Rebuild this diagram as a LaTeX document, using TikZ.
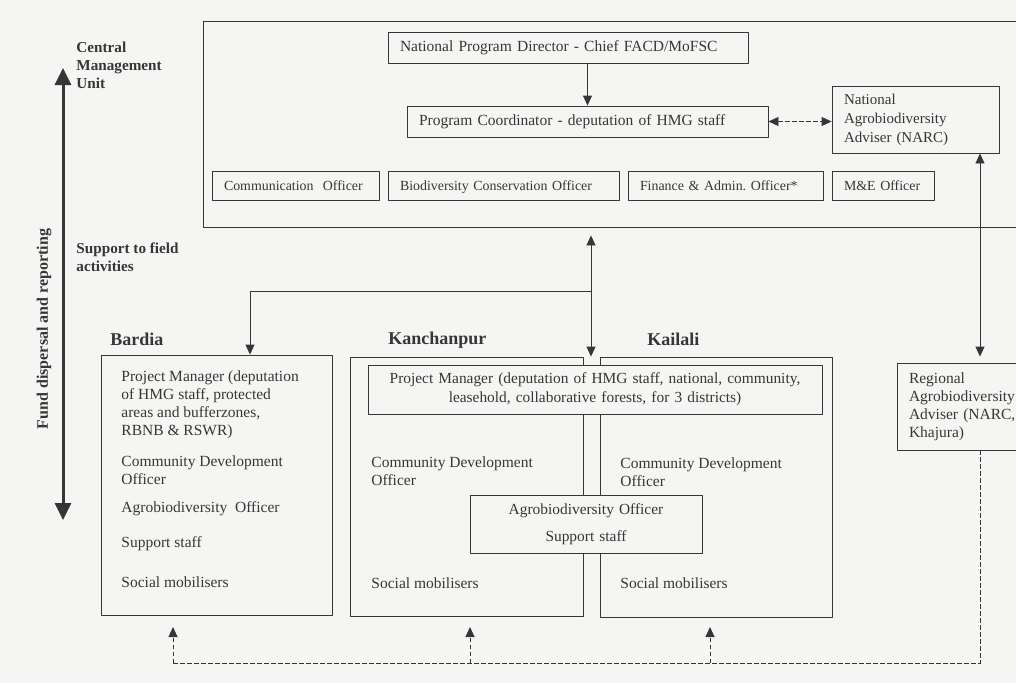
\documentclass[tikz,border=0pt]{standalone}
\usepackage{fontspec}
\setmainfont{Liberation Serif}
\usetikzlibrary{arrows.meta,positioning,calc}
\definecolor{ink}{HTML}{363636}
\definecolor{paper}{HTML}{F5F5F3}
\tikzset{
  txt/.style={text=ink,inner sep=0pt,align=left,font=\fontsize{15.5}{18}\selectfont},
  box/.style={draw=ink,fill=paper,line width=.9pt,inner xsep=12pt,inner ysep=0pt},
  small/.style={font=\fontsize{13.9}{16}\selectfont,text height=11pt,text depth=1.5pt},
  head/.style={txt,font=\bfseries\fontsize{15.2}{18}\selectfont},
  district/.style={txt,anchor=west,font=\bfseries\fontsize{18}{20}\selectfont},
  dashline/.style={dash pattern=on 4.5pt off 2.5pt}
}
\begin{document}
\begin{tikzpicture}[x=1pt,y=-1pt,>={Triangle[length=10pt,width=9pt]},line join=round,draw=ink,line width=.9pt]
\useasboundingbox (0,0) rectangle (1016,683);
\fill[paper] (0,0) rectangle (1016,683);
\clip (0,0) rectangle (1016,683);
\path (591,291) coordinate (hub)
(250,291) coordinate (bj)
(980,0) coordinate (link)
(63,68) coordinate (top) (63,520) coordinate (bot)
(173,663) coordinate (f1) (470,663) coordinate (f2) (710,663) coordinate (f3);
% left side
\node[head,anchor=west] (cmu-t) at (76,65) {Central\\Management\\Unit};
\node[head,anchor=west] (sfa-t) at (76,257.5) {Support to field\\activities};
\node[txt,rotate=90,font=\bfseries\fontsize{16}{18}\selectfont] (fdr-t) at (44,329) {Fund dispersal and reporting};
\draw[<->,line width=3pt,>={Triangle[length=17pt,width=16pt]}] (top) -- (bot);
% central management unit
\node[box,minimum width=837,minimum height=206] (cmu) at (621.5,124) {};
\node[txt,box,text width=336,minimum height=31] (npd) at (568,47.5) {National Program Director - Chief FACD/MoFSC};
\node[txt,box,text width=337,minimum height=31] (pc) at (587.5,121.5) {Program Coordinator - deputation of HMG staff};
\node[txt,box,text width=143,minimum height=67,font=\fontsize{15}{19}\selectfont] (narc) at (915.5,119.5) {National\\Agrobiodiversity\\Adviser (NARC)};
\node[txt,box,small,text width=143,minimum height=29] (com) at (295.5,185.5) {Communication\ \ Officer};
\node[txt,box,small,text width=207,minimum height=29] (bco) at (503.5,185.5) {Biodiversity Conservation Officer};
\node[txt,box,small,text width=171,minimum height=29] (fao) at (725.5,185.5) {Finance \& Admin.\ Officer*};
\node[txt,box,small,text width=78,minimum height=29] (mne) at (883,185.5) {M\&E Officer};
\draw[->] (npd.south -| pc.north) -- (pc.north);
\draw[<->,dashline] (pc.east) -- (pc.east -| narc.west);
% districts
\node[box,minimum width=231,minimum height=260] (bar) at (216.5,485) {};
\node[box,minimum width=233,minimum height=259] (kan) at (466.5,486.5) {};
\node[box,minimum width=232,minimum height=260] (kai) at (716,487) {};
\node[district] (bar-t) at (110,339) {Bardia};
\node[district] (kan-t) at (388,340) {Kanchanpur};
\node[district] (kai-t) at (647,339) {Kailali};
\node[txt,box,align=center,text width=430,minimum height=49,font=\fontsize{15.4}{19}\selectfont] (pm) at (595,389.5) {Project Manager (deputation of HMG staff, national, community,\\leasehold, collaborative forests, for 3 districts)};
\node[txt,box,align=center,text width=208,minimum height=58,font=\fontsize{15.4}{27}\selectfont] (ag) at (586,524) {Agrobiodiversity Officer\\Support staff};
\node[txt,anchor=west] (bar-pm) at (121,405) {Project Manager (deputation\\of HMG staff, protected\\areas and bufferzones,\\RBNB \& RSWR)};
\node[txt,anchor=west] (bar-cdo) at (121,470) {Community Development\\Officer};
\node[txt,anchor=west] (bar-ao) at (121,509) {Agrobiodiversity\ \ Officer};
\node[txt,anchor=west] (bar-ss) at (121,544) {Support staff};
\node[txt,anchor=west] (bar-sm) at (121,582) {Social mobilisers};
\node[txt,anchor=west] (kan-cdo) at (371,471) {Community Development\\Officer};
\node[txt,anchor=west] (kan-sm) at (371,583) {Social mobilisers};
\node[txt,anchor=west] (kai-cdo) at (620,472) {Community Development\\Officer};
\node[txt,anchor=west] (kai-sm) at (620,583) {Social mobilisers};
% regional adviser
\node[txt,box,text width=119,minimum height=87] (rad) at (968.5,406.5) {Regional\\Agrobiodiversity\\Adviser (NARC,\\Khajura)};
% links
\draw[<->] ($(cmu.south -| hub)+(0,8)$) -- (hub |- kan.north);
\draw[->] (hub) -- (bj) -- (bj |- bar.north);
\draw[<->] (narc.south -| link) -- ($(rad.north -| link)+(0,-6)$);
\draw[dashline] (rad.south -| link) |- (f1);
\foreach \f in {f1,f2,f3} \draw[dashline,->] (\f) -- ++(0,-36);
\end{tikzpicture}
\end{document}
